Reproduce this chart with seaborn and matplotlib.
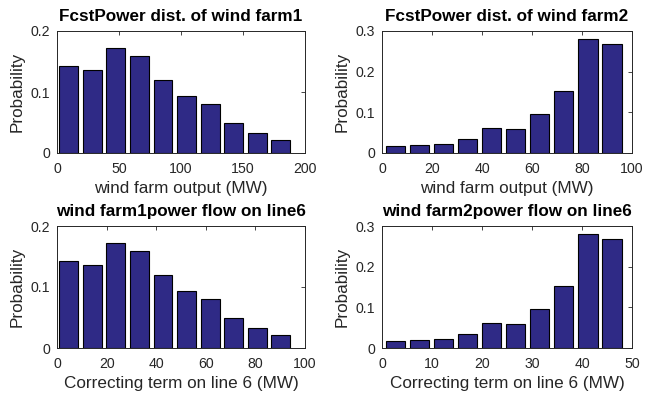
import matplotlib
matplotlib.use("Agg")
import matplotlib.pyplot as plt
import seaborn as sns
import pandas as pd

# ---- data ----
farm1_centers = [9.5, 28.5, 47.5, 66.5, 85.5, 104.5, 123.5, 142.5, 161.5, 180.5]
farm1_prob = [0.1426, 0.1366, 0.1716, 0.1585, 0.1197, 0.0940, 0.0809, 0.0490, 0.0333, 0.0219]
farm2_centers = [5.4, 15.0, 24.6, 34.3, 43.9, 53.5, 63.1, 72.7, 82.4, 92.0]
farm2_prob = [0.0180, 0.0197, 0.0220, 0.0350, 0.0615, 0.0580, 0.0967, 0.1516, 0.2810, 0.2690]
line1_centers = [4.75, 14.25, 23.75, 33.25, 42.75, 52.25, 61.75, 71.25, 80.75, 90.25]
line2_centers = [2.7, 7.5, 12.3, 17.15, 21.95, 26.75, 31.55, 36.35, 41.2, 46.0]

titles = ["FcstPower dist. of wind farm1", "FcstPower dist. of wind farm2",
          "wind farm1power flow on line6", "wind farm2power flow on line6"]
xlabels = ["wind farm output (MW)", "wind farm output (MW)",
           "Correcting term on line 6 (MW)", "Correcting term on line 6 (MW)"]
xlims = [200, 100, 100, 50]
ylims = [0.2, 0.3, 0.2, 0.3]
xticks = [[0, 50, 100, 150, 200], [0, 20, 40, 60, 80, 100],
          [0, 20, 40, 60, 80, 100], [0, 10, 20, 30, 40, 50]]
yticks = [[0, 0.1, 0.2], [0, 0.1, 0.2, 0.3], [0, 0.1, 0.2], [0, 0.1, 0.2, 0.3]]
ytlabels = [["0", "0.1", "0.2"], ["0", "0.1", "0.2", "0.3"],
            ["0", "0.1", "0.2"], ["0", "0.1", "0.2", "0.3"]]

series = [(farm1_centers, farm1_prob), (farm2_centers, farm2_prob),
          (line1_centers, farm1_prob), (line2_centers, farm2_prob)]

sns.set_style("white")
plt.rcParams['font.family'] = ['Liberation Sans', 'DejaVu Sans']

fig = plt.figure(figsize=(6.46, 3.94), dpi=100)
W, H = 646, 394
boxes = [(57, 31, 305, 153), (382, 31, 632, 153),
         (57, 226, 305, 348), (382, 226, 632, 348)]

bar_color = "#2f2a86"
axc = "#262626"
for i, (x0, y0, x1, y1) in enumerate(boxes):
    ax = fig.add_axes([x0 / W, 1 - y1 / H, (x1 - x0) / W, (y1 - y0) / H])
    cx, py = series[i]
    df = pd.DataFrame({"x": cx, "p": py})
    sns.barplot(data=df, x="x", y="p", native_scale=True, width=0.8,
                color=bar_color, saturation=1, edgecolor="black",
                linewidth=0.8, ax=ax)
    ax.set_xlim(0, xlims[i])
    ax.set_ylim(0, ylims[i])
    ax.set_xticks(xticks[i])
    ax.set_xticklabels([str(t) for t in xticks[i]])
    ax.set_yticks(yticks[i])
    ax.set_yticklabels(ytlabels[i])
    ax.set_title(titles[i], fontsize=12.3, fontweight="bold", pad=7, color="black")
    ax.set_xlabel(xlabels[i], fontsize=12.3, color=axc, labelpad=3.5)
    ax.set_ylabel("Probability", fontsize=12.3, color=axc, labelpad=4)
    ax.tick_params(direction="in", length=3, width=0.6, top=True, right=True,
                   labelsize=10.2, colors=axc, pad=5)
    ax.tick_params(axis="x", pad=6.5)
    for s in ax.spines.values():
        s.set_visible(True)
        s.set_color(axc)
        s.set_linewidth(0.7)

fig.savefig("out.png", dpi=100, facecolor="white")
